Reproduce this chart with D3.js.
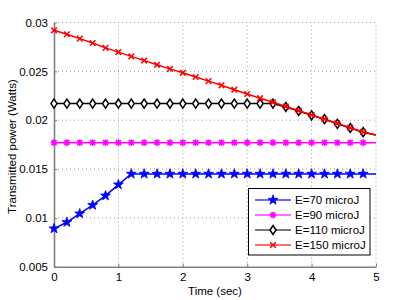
<!DOCTYPE html>
<html><head><meta charset="utf-8">
<script src="https://cdn.jsdelivr.net/npm/d3@7/dist/d3.min.js"></script>
<style>body{margin:0;background:#fff}svg{display:block;font-family:"Liberation Sans",Arial,sans-serif}</style>
</head><body><svg id="c" width="415" height="300"></svg>
<script>
const time = [0,0.2,0.4,0.6,0.8,1.0,1.2,1.4,1.6,1.8,2.0,2.2,2.4,2.6,2.8,3.0,3.2,3.4,3.6,3.8,4.0,4.2,4.4,4.6,4.8,5.0];
const e70  = [0.0089,0.00955,0.01043,0.0113,0.01227,0.0134,0.0145,0.0145,0.0145,0.0145,0.0145,0.0145,0.0145,0.0145,0.0145,0.0145,0.0145,0.0145,0.0145,0.0145,0.0145,0.0145,0.0145,0.0145,0.0145,0.0145];
const e90  = [0.0177,0.0177,0.0177,0.0177,0.0177,0.0177,0.0177,0.0177,0.0177,0.0177,0.0177,0.0177,0.0177,0.0177,0.0177,0.0177,0.0177,0.0177,0.0177,0.0177,0.0177,0.0177,0.0177,0.0177,0.0177,0.0177];
const e110 = [0.0217,0.0217,0.0217,0.0217,0.0217,0.0217,0.0217,0.0217,0.0217,0.0217,0.0217,0.0217,0.0217,0.0217,0.0217,0.0217,0.0217,0.0217,0.02135,0.02094,0.0205,0.0201,0.01963,0.0192,0.01877,0.01848];
const e150 = [0.0292,0.0288,0.02835,0.0279,0.0274,0.02697,0.02653,0.0261,0.02567,0.02525,0.02485,0.02442,0.024,0.02357,0.02312,0.02268,0.02225,0.02183,0.0214,0.02097,0.02053,0.0201,0.01967,0.01923,0.0188,0.01848];
const seriesNames = ["E=70 microJ","E=90 microJ","E=110 microJ","E=150 microJ"];
const xTicks = [0,1,2,3,4,5];
const yTicks = [0.005,0.01,0.015,0.02,0.025,0.03];
const yTickLabels = ["0.005","0.01","0.015","0.02","0.025","0.03"];
const markerCount = 25;

const svg = d3.select("#c");
const m = {l:54, r:39, t:22.5, b:33.3};
const W = 415, H = 300;
const x = d3.scaleLinear().domain([0,5]).range([m.l, W-m.r]);
const y = d3.scaleLinear().domain([0.005,0.03]).range([H-m.b, m.t]);

// grid
const g = svg.append("g");
xTicks.filter(t=>t>0).forEach(t=>g.append("line").attr("x1",x(t)).attr("x2",x(t)).attr("y1",y(0.005)).attr("y2",y(0.03))
  .attr("stroke","#9a9a9a").attr("stroke-width",1).attr("stroke-dasharray","1,3"));
yTicks.filter(t=>t>0.005).forEach(t=>g.append("line").attr("x1",x(0)).attr("x2",x(5)).attr("y1",y(t)).attr("y2",y(t))
  .attr("stroke","#9a9a9a").attr("stroke-width",1).attr("stroke-dasharray","1,3"));

// axes
const xa = svg.append("g").attr("transform",`translate(0,${y(0.005)})`)
  .call(d3.axisBottom(x).tickValues(xTicks).tickFormat(d3.format("d")).tickSizeInner(-3).tickSizeOuter(0).tickPadding(6));
const ya = svg.append("g").attr("transform",`translate(${x(0)},0)`)
  .call(d3.axisLeft(y).tickValues(yTicks).tickFormat((d,i)=>yTickLabels[i]).tickSizeInner(-3).tickSizeOuter(0).tickPadding(6));
[xa,ya].forEach(a=>{
  a.select(".domain").attr("stroke","#808080").attr("stroke-width",1.6);
  a.selectAll(".tick line").attr("stroke","#808080");
  a.selectAll("text").attr("font-size",11.5).attr("fill","#000").attr("font-family","Liberation Sans, Arial, sans-serif");
});

svg.append("text").attr("x",x(2.5)).attr("y",295).attr("text-anchor","middle").attr("font-size",11.5).text("Time (sec)");
svg.append("text").attr("transform",`translate(16,${y(0.0175)+2}) rotate(-90)`).attr("text-anchor","middle").attr("font-size",11.5).text("Transmitted power (Watts)");

const colors = ["#0000ff","#ff00ff","#000000","#ff0000"];
const vals = [e70,e90,e110,e150];
const line = d3.line().x(d=>x(d[0])).y(d=>y(d[1]));

function star(r){const p=[];for(let i=0;i<10;i++){const a=-Math.PI/2+i*Math.PI/5;const rr=i%2?r*0.4:r;p.push([rr*Math.cos(a),rr*Math.sin(a)]);}return "M"+p.map(q=>q.join(",")).join("L")+"Z";}
function drawMarker(sel, k, cx, cy){
  const gg = sel.append("g").attr("transform",`translate(${cx},${cy})`);
  if(k===0){ gg.append("path").attr("d",star(5.2)).attr("fill",colors[0]).attr("stroke",colors[0]).attr("stroke-width",0.8); }
  else if(k===1){ const r=3.3; [[0,-r,0,r],[-r,0,r,0],[-r*0.75,-r*0.75,r*0.75,r*0.75],[-r*0.75,r*0.75,r*0.75,-r*0.75]].forEach(s=>gg.append("line").attr("x1",s[0]).attr("y1",s[1]).attr("x2",s[2]).attr("y2",s[3]).attr("stroke",colors[1]).attr("stroke-width",1.6)); }
  else if(k===2){ gg.append("path").attr("d","M0,-4.5L3,0L0,4.5L-3,0Z").attr("fill","#fff").attr("stroke","#000").attr("stroke-width",1.5); }
  else { const r=2.8; [[-r,-r,r,r],[-r,r,r,-r]].forEach(s=>gg.append("line").attr("x1",s[0]).attr("y1",s[1]).attr("x2",s[2]).attr("y2",s[3]).attr("stroke",colors[3]).attr("stroke-width",1.5)); }
}

vals.forEach((v,k)=>{
  const pts = time.map((t,i)=>[t,v[i]]);
  const sg = svg.append("g");
  sg.append("path").attr("d",line(pts)).attr("fill","none").attr("stroke",colors[k]).attr("stroke-width",1.5);
  pts.filter((d,i)=>i<markerCount).forEach(d=>drawMarker(sg,k,x(d[0]),y(d[1])));
});

// legend
const lg = svg.append("g");
lg.append("rect").attr("x",248.5).attr("y",188.5).attr("width",121.5).attr("height",66.5).attr("fill","#fff").attr("stroke","#000").attr("stroke-width",1);
seriesNames.forEach((n,k)=>{
  const yy = 200 + k*15;
  lg.append("line").attr("x1",255).attr("x2",291).attr("y1",yy).attr("y2",yy).attr("stroke",colors[k]).attr("stroke-width",1.5).attr("opacity",k===2?0.7:0.75);
  drawMarker(lg,k,273,yy);
  lg.append("text").attr("x",295).attr("y",yy+4).attr("font-size",11.5).text(n);
});
</script></body></html>
